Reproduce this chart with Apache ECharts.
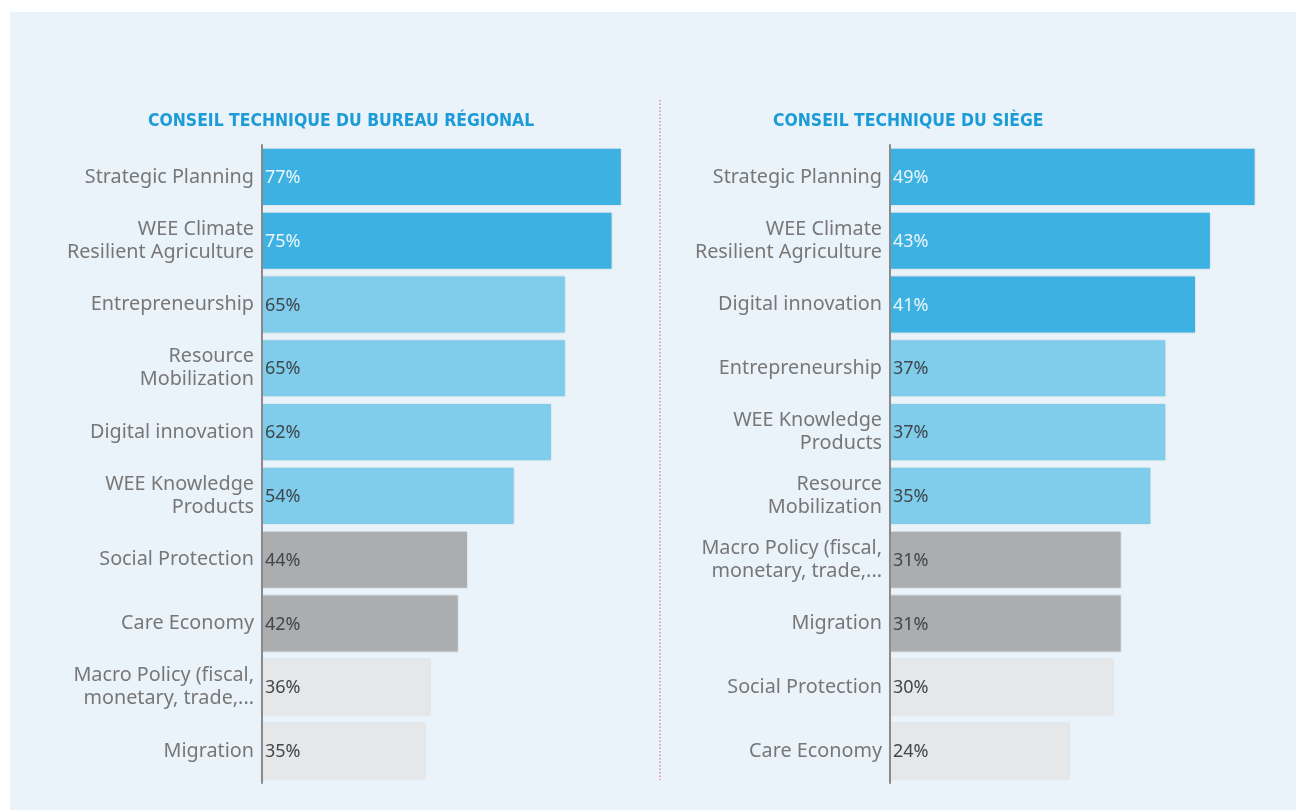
<!DOCTYPE html>
<html><head><meta charset="utf-8">
<script src="https://cdn.jsdelivr.net/npm/echarts@6/dist/echarts.min.js"></script>
<style>html,body{margin:0;padding:0;background:#fff}#c{width:1296px;height:810px}</style>
</head><body><div id="c"></div>
<script>
// ---- data ----
const leftTitle = 'CONSEIL TECHNIQUE DU BUREAU RÉGIONAL';
const rightTitle = 'CONSEIL TECHNIQUE DU SIÈGE';
const leftCategories = ['Strategic Planning','WEE Climate\nResilient Agriculture','Entrepreneurship','Resource\nMobilization','Digital innovation','WEE Knowledge\nProducts','Social Protection','Care Economy','Macro Policy (fiscal,\nmonetary, trade,...','Migration'];
const leftValues = [77,75,65,65,62,54,44,42,36,35];
const leftTier = [0,0,1,1,1,1,2,2,3,3];
const rightCategories = ['Strategic Planning','WEE Climate\nResilient Agriculture','Digital innovation','Entrepreneurship','WEE Knowledge\nProducts','Resource\nMobilization','Macro Policy (fiscal,\nmonetary, trade,...','Migration','Social Protection','Care Economy'];
const rightValues = [49,43,41,37,37,35,31,31,30,24];
const rightTier = [0,0,0,1,1,1,2,2,3,3];

// ---- styles ----
const tierColors = ['#3DB1E2','#7FCDEB','#ACADAF','#E6E7E8'];
const tierLabel = ['#EAF6FC','#40464c','#40464c','#40464c'];
const catFont = '"Noto Sans", sans-serif';
const valFont = '"Noto Sans", sans-serif';
const titleFont = '"DejaVu Sans Condensed", sans-serif';

function mk(vals, tiers){
  return vals.map((v,i)=>({value:v,itemStyle:{color:tierColors[tiers[i]]},label:{color:tierLabel[tiers[i]]}}));
}
const chart = echarts.init(document.getElementById('c'));
function grid(left,width){return {left:left,width:width,top:145,height:638,outerBoundsMode:'none'};}
function yAx(gi,cats){return {type:'category',gridIndex:gi,data:cats,inverse:true,z:5,
  axisLine:{show:true,lineStyle:{color:'#8a8a8a',width:2}},axisTick:{show:false},
  axisLabel:{color:'#777777',fontSize:19.8,fontFamily:catFont,margin:8,lineHeight:23,align:'right'}};}
function xAx(gi,max){return {type:'value',gridIndex:gi,min:0,max:max,show:false,splitLine:{show:false}};}
function ser(gi,vals,tiers){return {type:'bar',xAxisIndex:gi,yAxisIndex:gi,data:mk(vals,tiers),barCategoryGap:'12%',
  label:{show:true,position:'insideLeft',offset:[-2,1],formatter:'{c}%',fontSize:18,fontFamily:valFont},
  itemStyle:{shadowColor:'rgba(0,0,0,0.12)',shadowBlur:2}};}
const titleStyle = {color:'#1B9BD7',fontSize:17.4,fontWeight:'bold',fontFamily:titleFont};
chart.setOption({
  backgroundColor:'#fff',
  animation:false,
  title:[
    {text:leftTitle,left:148,top:113,padding:0,textStyle:titleStyle},
    {text:rightTitle,left:773,top:113,padding:0,textStyle:titleStyle}
  ],
  graphic:[
    {type:'rect',z:-10,shape:{x:10,y:12,width:1286,height:798},style:{fill:'#EAF2FA'}},
    {type:'line',shape:{x1:660,y1:100,x2:660,y2:780},style:{stroke:'#E8679A',lineWidth:1.2,lineDash:[1.5,2]}}
  ],
  grid:[grid(262,466),grid(890,372)],
  xAxis:[xAx(0,100),xAx(1,50)],
  yAxis:[yAx(0,leftCategories),yAx(1,rightCategories)],
  series:[ser(0,leftValues,leftTier),ser(1,rightValues,rightTier)]
});
</script></body></html>
